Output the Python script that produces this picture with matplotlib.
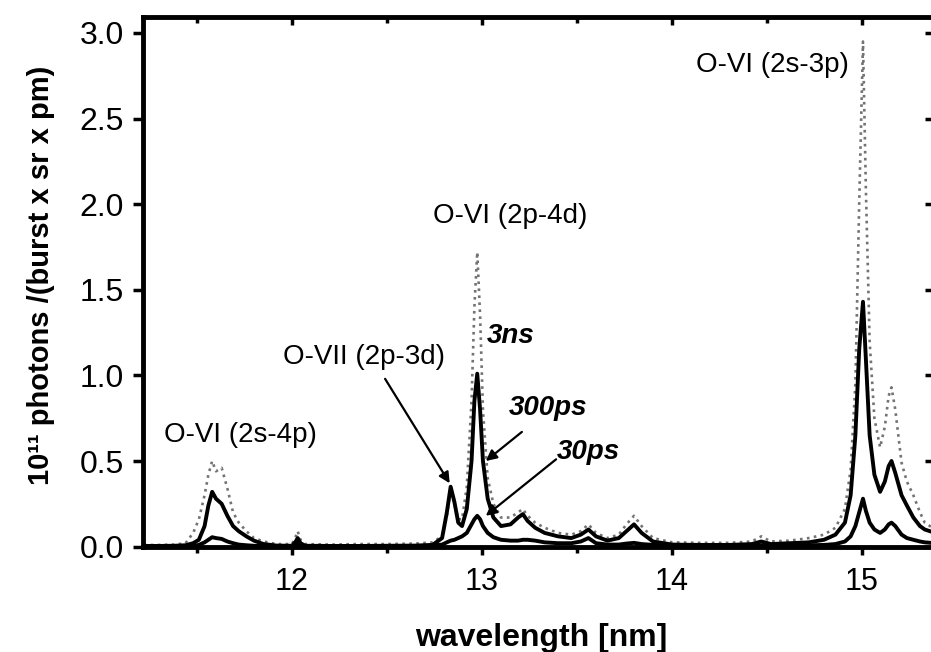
import matplotlib
matplotlib.use("Agg")
from matplotlib import pyplot as plt
from matplotlib.ticker import MultipleLocator

plt.rcParams['font.family'] = ['Liberation Sans', 'DejaVu Sans']

# spectrum samples (wavelength in nm, intensity in 1e11 photons/(burst sr pm))
wavelength = [11.22, 11.30, 11.38, 11.44, 11.48, 11.51, 11.54, 11.56, 11.58, 11.60,
              11.63, 11.66, 11.69, 11.72, 11.76, 11.80, 11.85, 11.92, 12.00, 12.02,
              12.03, 12.045, 12.07, 12.20, 12.35, 12.50, 12.65, 12.74, 12.79, 12.815,
              12.835, 12.855, 12.875, 12.895, 12.92, 12.945, 12.96, 12.975, 12.99, 13.005,
              13.03, 13.06, 13.10, 13.15, 13.19, 13.215, 13.24, 13.28, 13.33, 13.40,
              13.47, 13.52, 13.56, 13.60, 13.66, 13.72, 13.76, 13.80, 13.84, 13.90,
              14.00, 14.15, 14.30, 14.42, 14.47, 14.52, 14.62, 14.72, 14.80, 14.86,
              14.91, 14.94, 14.965, 14.985, 15.005, 15.02, 15.04, 15.065, 15.095, 15.12,
              15.14, 15.155, 15.175, 15.208, 15.236, 15.27, 15.305, 15.33, 15.385]

int_3ns = [0.01, 0.01, 0.012, 0.02, 0.08, 0.16, 0.30, 0.42, 0.50, 0.44,
           0.46, 0.34, 0.20, 0.14, 0.09, 0.05, 0.03, 0.015, 0.015, 0.06,
           0.09, 0.04, 0.015, 0.012, 0.015, 0.015, 0.018, 0.025, 0.06, 0.18,
           0.33, 0.25, 0.16, 0.16, 0.35, 0.85, 1.40, 1.72, 1.35, 0.80,
           0.40, 0.25, 0.17, 0.17, 0.20, 0.22, 0.18, 0.14, 0.11, 0.08,
           0.07, 0.09, 0.13, 0.08, 0.05, 0.07, 0.13, 0.18, 0.12, 0.05,
           0.025, 0.022, 0.022, 0.03, 0.06, 0.03, 0.035, 0.05, 0.07, 0.11,
           0.22, 0.45, 0.95, 2.00, 2.95, 2.10, 1.20, 0.75, 0.58, 0.70,
           0.88, 0.93, 0.80, 0.49, 0.38, 0.30, 0.20, 0.14, 0.10]

int_300ps = [0.004, 0.004, 0.005, 0.008, 0.02, 0.04, 0.12, 0.24, 0.32, 0.28,
             0.25, 0.18, 0.12, 0.09, 0.06, 0.035, 0.015, 0.006, 0.005, 0.03,
             0.05, 0.02, 0.005, 0.004, 0.004, 0.005, 0.006, 0.01, 0.05, 0.20,
             0.35, 0.26, 0.14, 0.12, 0.22, 0.50, 0.85, 1.01, 0.80, 0.50,
             0.28, 0.17, 0.12, 0.13, 0.17, 0.19, 0.15, 0.11, 0.08, 0.06,
             0.05, 0.07, 0.10, 0.06, 0.035, 0.05, 0.09, 0.13, 0.08, 0.03,
             0.012, 0.01, 0.01, 0.015, 0.03, 0.015, 0.02, 0.025, 0.04, 0.07,
             0.14, 0.30, 0.65, 1.15, 1.43, 1.10, 0.65, 0.42, 0.32, 0.38,
             0.47, 0.50, 0.43, 0.30, 0.24, 0.17, 0.12, 0.10, 0.08]

int_30ps = [0.002, 0.002, 0.002, 0.003, 0.005, 0.01, 0.025, 0.04, 0.055, 0.05,
            0.045, 0.03, 0.02, 0.012, 0.008, 0.005, 0.003, 0.002, 0.002, 0.01,
            0.02, 0.008, 0.002, 0.002, 0.002, 0.003, 0.004, 0.006, 0.012, 0.025,
            0.035, 0.04, 0.05, 0.06, 0.08, 0.13, 0.16, 0.18, 0.16, 0.12,
            0.08, 0.055, 0.04, 0.035, 0.035, 0.04, 0.04, 0.035, 0.025, 0.02,
            0.02, 0.03, 0.05, 0.02, 0.012, 0.012, 0.018, 0.022, 0.015, 0.01,
            0.006, 0.005, 0.005, 0.006, 0.008, 0.006, 0.007, 0.008, 0.01, 0.015,
            0.03, 0.06, 0.12, 0.20, 0.28, 0.21, 0.14, 0.10, 0.08, 0.10,
            0.13, 0.14, 0.12, 0.07, 0.05, 0.04, 0.03, 0.025, 0.02]

line_labels = ["O-VI (2s-4p)", "O-VII (2p-3d)", "O-VI (2p-4d)", "O-VI (2s-3p)"]
line_label_pos = [(11.73, 0.65), (12.38, 1.11), (13.15, 1.93), (14.53, 2.81)]

fig = plt.figure(figsize=(9.31, 6.52), dpi=100)
ax = fig.add_axes([0.1536, 0.1603, 0.8507, 0.8136])

ax.plot(wavelength, int_3ns, linestyle=':', color='0.45', lw=1.9)
ax.plot(wavelength, int_300ps, color='k', lw=2.8)
ax.plot(wavelength, int_30ps, color='k', lw=2.8)

ax.set_xlim(11.216, 15.384)
ax.set_ylim(-0.005, 3.093)

for txt, (x, y) in zip(line_labels, line_label_pos):
    ax.text(x, y, txt, fontsize=20, ha='center', va='center')

arrow = dict(arrowstyle='-|>', color='k', lw=1.6, mutation_scale=16,
             shrinkA=0, shrinkB=0)
ax.annotate("", xy=(12.83, 0.37), xytext=(12.49, 0.98), arrowprops=arrow)
ax.annotate("", xy=(13.02, 0.50), xytext=(13.21, 0.67), arrowprops=arrow)
ax.annotate("", xy=(13.02, 0.18), xytext=(13.39, 0.51), arrowprops=arrow)

# pulse duration labels
ax.text(13.15, 1.23, "3ns", fontsize=20, style='italic', weight='bold',
        ha='center', va='center')
ax.text(13.35, 0.81, "300ps", fontsize=20, style='italic', weight='bold',
        ha='center', va='center')
ax.text(13.56, 0.55, "30ps", fontsize=20, style='italic', weight='bold',
        ha='center', va='center')

for s in ax.spines.values():
    s.set_linewidth(3.5)

ax.xaxis.set_major_locator(MultipleLocator(1))
ax.xaxis.set_minor_locator(MultipleLocator(0.5))
ax.yaxis.set_major_locator(MultipleLocator(0.5))
ax.tick_params(axis='x', which='major', direction='out', length=6, width=2.5,
               labelsize=22, pad=8, top=True)
ax.tick_params(axis='x', which='minor', direction='out', length=4, width=2.5,
               top=True)
ax.tick_params(axis='y', which='major', direction='out', length=7, width=2.5,
               labelsize=23, pad=7, right=True)
for t in ax.xaxis.get_major_ticks() + ax.xaxis.get_minor_ticks():
    t.tick2line.set_marker(3)  # top ticks point into the plot
for t in ax.yaxis.get_major_ticks():
    t.tick2line.set_marker(0)

ax.yaxis.set_major_formatter(plt.FormatStrFormatter('%.1f'))

ax.set_xlabel("wavelength [nm]", fontsize=23, weight='bold')
ax.xaxis.set_label_coords(0.5025, -0.142)
ax.set_ylabel("10\u00b9\u00b9 photons /(burst x sr x pm)", fontsize=21,
              weight='bold')
ax.yaxis.set_label_coords(-0.111, 0.514)

plt.savefig("out.png", dpi=100)
